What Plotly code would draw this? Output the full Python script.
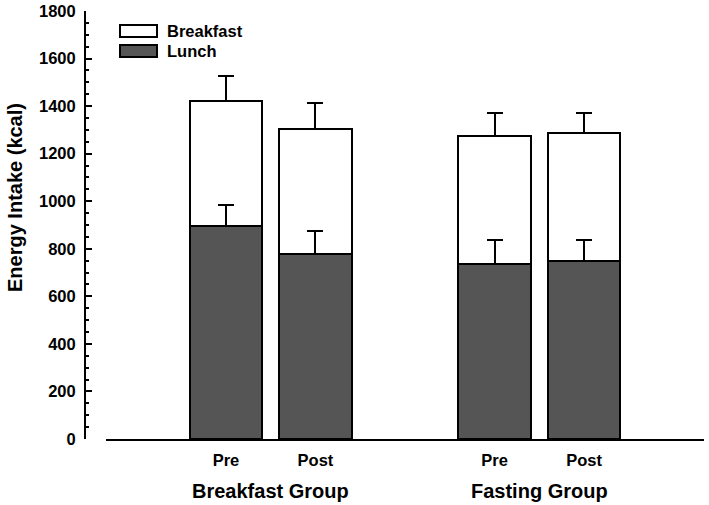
import plotly.graph_objects as go

conditions = ["Pre", "Post", "Pre", "Post"]
positions = [0, 1, 3, 4]
groups = ["Breakfast Group", "Fasting Group"]
group_centers = [0.5, 3.5]

lunch = [895, 780, 735, 750]
lunch_sd = [91, 95, 100, 87]
total = [1420, 1305, 1273, 1287]
total_sd = [106, 110, 100, 83]
breakfast = [t - l for t, l in zip(total, lunch)]

FONT = "Liberation Sans, Arial, sans-serif"
L, R, T, B = 85, 5, 11, 66
PW = 709 - L - R
PH = 505 - T - B

fig = go.Figure()
fig.add_trace(go.Bar(
    x=positions, y=lunch, name="Lunch", width=0.805,
    marker=dict(color="#555555", line=dict(color="black", width=2)),
    error_y=dict(type="data", array=lunch_sd, arrayminus=[0]*4, symmetric=False,
                 color="black", thickness=2, width=8),
))
fig.add_trace(go.Bar(
    x=positions, y=breakfast, name="Breakfast", width=0.805,
    marker=dict(color="rgba(0,0,0,0)", line=dict(color="black", width=2)),
    error_y=dict(type="data", array=total_sd, arrayminus=[0]*4, symmetric=False,
                 color="black", thickness=2, width=8),
))

fig.update_layout(
    barmode="stack",
    width=709, height=505,
    margin=dict(l=L, r=R, t=T, b=B, autoexpand=False),
    plot_bgcolor="white", paper_bgcolor="white",
    showlegend=False,
    font=dict(family=FONT, color="black"),
    xaxis=dict(
        domain=[(106 - L) / PW, 1], range=[-1.34, 5.34], automargin=False,
        tickmode="array", tickvals=positions, ticktext=conditions,
        ticks="", showgrid=False, zeroline=False, ticklabelstandoff=5,
        showline=True, linecolor="black", linewidth=2,
        tickfont=dict(size=16.5, family=FONT, color="black", weight="bold"),
    ),
    yaxis=dict(
        anchor="free", position=0, range=[0, 1800], automargin=False,
        tickmode="linear", tick0=0, dtick=200, ticklabelstandoff=5,
        ticks="inside", ticklen=6, tickwidth=1.5, tickcolor="black",
        minor=dict(dtick=50, ticks="inside", ticklen=3, tickwidth=1.5, tickcolor="black"),
        showgrid=False, zeroline=False,
        showline=True, linecolor="black", linewidth=2,
        tickfont=dict(size=16.5, family=FONT, color="black", weight="bold"),
    ),
)

fig.add_annotation(xref="paper", yref="paper", x=(15 - L) / PW, y=1 - (198 - T) / PH,
                   text="Energy Intake (kcal)", textangle=-90, showarrow=False,
                   xanchor="center", yanchor="middle",
                   font=dict(size=20, family=FONT, color="black", weight="bold"))

for g, c in zip(groups, group_centers):
    fig.add_annotation(x=c, y=1 - (491 - T) / PH, xref="x", yref="paper", text=g,
                       showarrow=False, yanchor="middle",
                       font=dict(size=20, family=FONT, color="black", weight="bold"))

# legend drawn as shapes + text
legend_items = [("Breakfast", "white"), ("Lunch", "#555555")]
x0p = (120 - L) / PW
x1p = (157 - L) / PW
for i, (name, col) in enumerate(legend_items):
    top = 25 + i * 20
    y1 = 1 - (top - T) / PH
    y0 = 1 - (top + 12 - T) / PH
    fig.add_shape(type="rect", xref="paper", yref="paper", x0=x0p, x1=x1p, y0=y0, y1=y1,
                  fillcolor=col, line=dict(color="black", width=2))
    fig.add_annotation(xref="paper", yref="paper", x=(165 - L) / PW, y=(y0 + y1) / 2,
                       text=name, showarrow=False, xanchor="left", yanchor="middle",
                       font=dict(size=16.5, family=FONT, color="black", weight="bold"))

fig.write_html("out.html", config={"displayModeBar": False},
               post_script="document.body.style.margin='0';document.body.style.overflow='hidden';")
